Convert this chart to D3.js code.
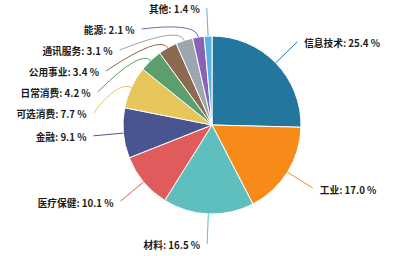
<!DOCTYPE html>
<html>
<head>
<meta charset="utf-8">
<script src="https://cdn.jsdelivr.net/npm/d3@7"></script>
<style>
  body { margin: 0; background: #fff; }
  svg { display: block; }
  .lbl { font-family: "Noto Sans CJK SC", "Noto Sans", sans-serif; font-size: 9.7px; font-weight: bold; fill: #1a1a1a; }
</style>
</head>
<body>
<svg width="395" height="256"></svg>
<script>
const sectors = ['信息技术', '工业', '材料', '医疗保健', '金融', '可选消费', '日常消费', '公用事业', '通讯服务', '能源', '其他'];
const weights = [25.4, 17.0, 16.5, 10.1, 9.1, 7.7, 4.2, 3.4, 3.1, 2.1, 1.4];
const colors = ['#23779f', '#f78b1a', '#5fbfbf', '#e05c5c', '#4a5590', '#e6c55b', '#5c9e6e', '#8c6a4f', '#9ba6ae', '#8762b5', '#5ab4e0'];

const data = sectors.map((s, i) => ({ name: s, value: weights[i], color: colors[i] }));

const svg = d3.select('svg');
const cx = 212, cy = 125, r = 89;
const len1 = 15, rOut = r + 30, gap = 7, spacing = 21, topMin = 8;

const pie = d3.pie().value(d => d.value).sort(null);
const arc = d3.arc().innerRadius(0).outerRadius(r);
const arcs = pie(data);

const g = svg.append('g').attr('transform', `translate(${cx},${cy})`);

g.selectAll('path.slice')
  .data(arcs)
  .enter()
  .append('path')
  .classed('slice', true)
  .attr('d', arc)
  .attr('fill', d => d.data.color)
  .attr('stroke', '#fff')
  .attr('stroke-width', 1);

// label layout: natural spot on radius rOut, then push apart per side
const pt = (a, rad) => [Math.sin(a) * rad, -Math.cos(a) * rad];
const labels = arcs.map(d => {
  const a = (d.startAngle + d.endAngle) / 2;
  const p = pt(a, rOut);
  return { d, a, nx: p[0], ny: p[1], x: p[0], y: p[1], dir: Math.sin(a) >= 0 ? 1 : -1 };
});

[1, -1].forEach(dir => {
  const side = labels.filter(l => l.dir === dir).sort((a, b) => a.ny - b.ny);
  let prev = topMin - cy - spacing;
  side.forEach(l => {
    l.y = Math.max(l.ny, prev + spacing);
    prev = l.y;
    if (Math.abs(l.y - l.ny) > 3 && Math.abs(l.y) < rOut) {
      l.x = dir * Math.sqrt(rOut * rOut - l.y * l.y);
    }
  });
});

labels.forEach(l => {
  const p0 = pt(l.a, r);
  const p1 = pt(l.a, r + len1);
  const path = d3.path();
  path.moveTo(p0[0], p0[1]);
  path.quadraticCurveTo(p1[0], p1[1], l.x, l.y);
  g.append('path')
    .attr('d', path.toString())
    .attr('fill', 'none')
    .attr('stroke', l.d.data.color)
    .attr('stroke-width', 1);
});

g.selectAll('text.lbl')
  .data(labels)
  .enter()
  .append('text')
  .classed('lbl', true)
  .attr('x', l => l.x + l.dir * gap)
  .attr('y', l => l.y + 2)
  .attr('dy', '0.35em')
  .attr('text-anchor', l => l.dir > 0 ? 'start' : 'end')
  .text(l => `${l.d.data.name}: ${l.d.data.value.toFixed(1)} %`);
</script>
</body>
</html>
